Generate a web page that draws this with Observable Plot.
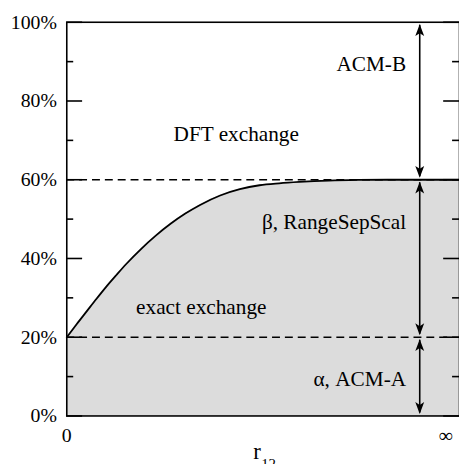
<!DOCTYPE html>
<html>
<head>
<meta charset="utf-8">
<script src="https://cdn.jsdelivr.net/npm/d3@7"></script>
<script src="https://cdn.jsdelivr.net/npm/@observablehq/plot@0.6"></script>
<style>
  html, body { margin: 0; padding: 0; background: #fff; overflow: hidden; }
</style>
</head>
<body>
<div id="chart"></div>
<script>
// ---- data ----
const curveX = [0, 0.026, 0.052, 0.078, 0.104, 0.131, 0.157, 0.196, 0.235, 0.274, 0.313, 0.352, 0.405, 0.457, 0.509, 0.561, 0.614, 0.692, 0.770, 0.85, 1.037];
const curveY = [20, 23.3, 26.5, 29.7, 32.8, 35.8, 38.6, 42.4, 45.8, 48.8, 51.4, 53.6, 56.0, 57.6, 58.6, 59.1, 59.45, 59.8, 59.95, 60, 60];

const levels = [20, 60];                    // dashed reference levels (%)
const yMajor = [0, 20, 40, 60, 80, 100];
const yMinor = [10, 30, 50, 70, 90];
const xTickValues = [0, 1];
const xTickLabels = ["0", "\u221E"];

const arrowX = 0.932;
const segTop = [100, 60, 20];
const segBottom = [60, 20, 0];

const labels = ["ACM-B", "DFT exchange", "\u03B2, RangeSepScal", "exact exchange", "\u03B1, ACM-A"];
const labelX = [0.896, 0.282, 0.896, 0.183, 0.896];
const labelY = [90, 72.4, 50, 28.4, 10];
const labelAnchor = ["end", "start", "end", "start", "end"];

const axisLabel = "r";
const axisLabelSub = "12";

// ---- derived tables ----
const curve = curveX.map((x, i) => ({x, y: curveY[i]}));
const segs = segTop.map((t, i) => ({x: arrowX, top: t, bottom: segBottom[i]}));
const ann = labels.map((t, i) => ({t, x: labelX[i], y: labelY[i], a: labelAnchor[i]}));

const upHead = {
  draw(ctx) {
    ctx.moveTo(0, 2); ctx.lineTo(-4.5, 14); ctx.lineTo(0, 11); ctx.lineTo(4.5, 14); ctx.closePath();
  }
};
const downHead = {
  draw(ctx) {
    ctx.moveTo(0, -2); ctx.lineTo(-4.5, -14); ctx.lineTo(0, -11); ctx.lineTo(4.5, -14); ctx.closePath();
  }
};

const W = 464, ML = 67, frameW = W - ML;
const serif = "'Liberation Serif', 'Times New Roman', serif";

const chart = Plot.plot({
  width: W,
  height: 469,
  marginLeft: ML,
  marginRight: 0,
  marginTop: 22,
  marginBottom: 49,
  style: {fontFamily: serif, fontSize: "20px", background: "#fff", color: "#000"},
  x: {domain: [0, 1.037], axis: null},
  y: {domain: [0, 100], axis: null},
  marks: [
    Plot.areaY(curve, {x: "x", y: "y", fill: "#dcdcdc", curve: "monotone-x"}),
    Plot.ruleY(levels, {stroke: "#000", strokeWidth: 1.4, strokeDasharray: "8,5"}),
    Plot.line(curve, {x: "x", y: "y", stroke: "#000", strokeWidth: 1.8, curve: "monotone-x"}),
    Plot.frame({stroke: "#000", strokeWidth: 1.6}),
    // inward ticks, left and right
    Plot.tickY(yMajor, {y: d => d, insetRight: frameW - 16, stroke: "#000", strokeWidth: 1.6}),
    Plot.tickY(yMajor, {y: d => d, insetLeft: frameW - 16, stroke: "#000", strokeWidth: 1.6}),
    Plot.tickY(yMinor, {y: d => d, insetRight: frameW - 7, stroke: "#000", strokeWidth: 1.6}),
    Plot.tickY(yMinor, {y: d => d, insetLeft: frameW - 7, stroke: "#000", strokeWidth: 1.6}),
    Plot.axisY(yMajor, {tickSize: 0, tickPadding: 10, tickFormat: d => d + "%", fontSize: 20, fontFamily: serif}),
    Plot.axisX(xTickValues, {tickSize: 0, tickPadding: 12, tickFormat: (d, i) => xTickLabels[i], label: null, fontSize: 20, fontFamily: serif}),
    // double arrows
    Plot.ruleX(segs, {x: "x", y1: "top", y2: "bottom", insetTop: 3, insetBottom: 3, stroke: "#000", strokeWidth: 1.6}),
    Plot.dot(segs, {x: "x", y: "top", symbol: upHead, fill: "#000", stroke: null}),
    Plot.dot(segs, {x: "x", y: "bottom", symbol: downHead, fill: "#000", stroke: null}),
    // annotations
    Plot.text(ann.filter(d => d.a === "start"), {x: "x", y: "y", text: "t", textAnchor: "start", dy: 3, fontSize: 21.5, fontFamily: serif, fill: "#000"}),
    Plot.text(ann.filter(d => d.a === "end"), {x: "x", y: "y", text: "t", textAnchor: "end", dy: 3, fontSize: 21.5, fontFamily: serif, fill: "#000"}),
    // axis label r_12
    Plot.text([axisLabel], {frameAnchor: "bottom", lineAnchor: "middle", text: d => d, textAnchor: "start", dx: -10, dy: 36, fontSize: 23, fontFamily: serif, fill: "#000"}),
    Plot.text([axisLabelSub], {frameAnchor: "bottom", lineAnchor: "middle", text: d => d, textAnchor: "start", dx: -2, dy: 48.5, fontSize: 15, fontFamily: serif, fill: "#000"})
  ]
});
document.getElementById("chart").appendChild(chart);
</script>
</body>
</html>
